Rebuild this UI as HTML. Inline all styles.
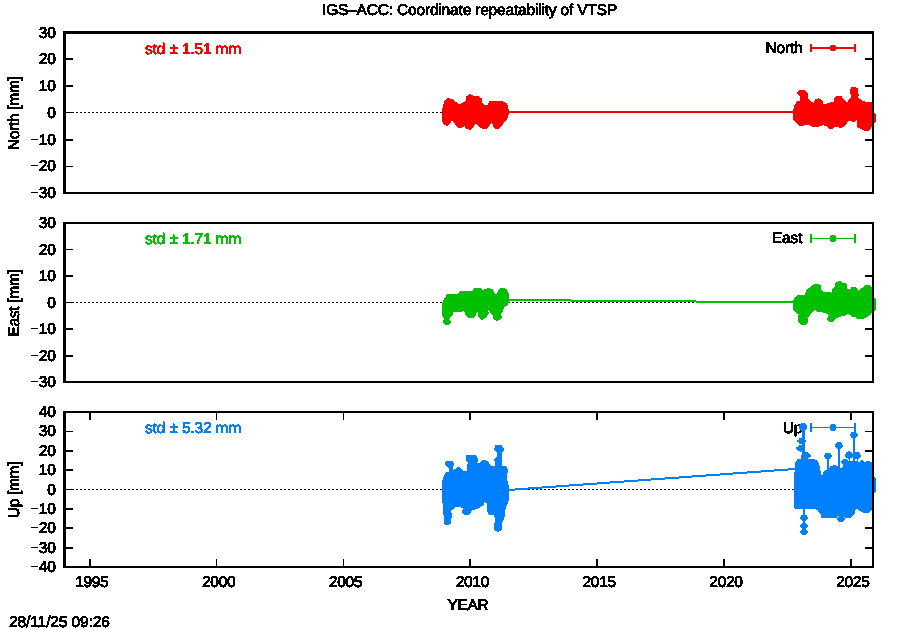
<!DOCTYPE html>
<html><head><meta charset="utf-8"><title>IGS-ACC: Coordinate repeatability of VTSP</title>
<style>html,body{margin:0;padding:0;background:#fff;}body{width:900px;height:630px;overflow:hidden;font-family:"Liberation Sans",sans-serif;}svg{display:block;}text{font-family:"Liberation Sans",sans-serif;}</style></head>
<body>
<svg width="900" height="630" viewBox="0 0 900 630" font-family="'Liberation Sans', sans-serif" font-size="15.5" letter-spacing="-0.3" text-rendering="geometricPrecision">
<rect width="900" height="630" fill="#fff"/>
<defs><filter id="al" x="0" y="0" width="100%" height="100%" filterUnits="userSpaceOnUse" color-interpolation-filters="sRGB"><feComponentTransfer><feFuncA type="discrete" tableValues="0 1"/></feComponentTransfer></filter></defs>
<g filter="url(#al)"><text transform="translate(469.5 15)" text-anchor="middle" fill="#000" stroke="#000" stroke-width="0.85" letter-spacing="-0.18">IGS–ACC: Coordinate repeatability of VTSP</text></g>
<g filter="url(#al)"><text transform="translate(802.5 53)" text-anchor="end" fill="#000" stroke="#000" stroke-width="0.85" letter-spacing="-0.2">North</text></g>
<g shape-rendering="crispEdges">
<line x1="64" y1="112.5" x2="872" y2="112.5" stroke="#000" stroke-width="1" stroke-dasharray="2 2"/>
</g>
<g filter="url(#al)"><text transform="translate(802.5 243)" text-anchor="end" fill="#000" stroke="#000" stroke-width="0.85" letter-spacing="-0.05">East</text></g>
<g shape-rendering="crispEdges">
<line x1="64" y1="302.5" x2="872" y2="302.5" stroke="#000" stroke-width="1" stroke-dasharray="2 2"/>
</g>
<g filter="url(#al)"><text transform="translate(802.5 433)" text-anchor="end" fill="#000" stroke="#000" stroke-width="0.85" letter-spacing="0">Up</text></g>
<g shape-rendering="crispEdges">
<line x1="64" y1="489.5" x2="872" y2="489.5" stroke="#000" stroke-width="1" stroke-dasharray="2 2"/>
</g>
<g shape-rendering="crispEdges">
<rect x="66" y="58" width="7" height="2" fill="#000"/>
<rect x="865" y="58" width="7" height="2" fill="#000"/>
<rect x="66" y="85" width="7" height="2" fill="#000"/>
<rect x="865" y="85" width="7" height="2" fill="#000"/>
<rect x="66" y="112" width="7" height="1" fill="#000"/>
<rect x="865" y="112" width="7" height="1" fill="#000"/>
<rect x="66" y="139" width="7" height="2" fill="#000"/>
<rect x="865" y="139" width="7" height="2" fill="#000"/>
<rect x="66" y="166" width="7" height="1" fill="#000"/>
<rect x="865" y="166" width="7" height="1" fill="#000"/>
</g>
<g shape-rendering="crispEdges">
<rect x="66" y="249" width="7" height="1" fill="#000"/>
<rect x="865" y="249" width="7" height="1" fill="#000"/>
<rect x="66" y="275" width="7" height="2" fill="#000"/>
<rect x="865" y="275" width="7" height="2" fill="#000"/>
<rect x="66" y="302" width="7" height="1" fill="#000"/>
<rect x="865" y="302" width="7" height="1" fill="#000"/>
<rect x="66" y="328" width="7" height="2" fill="#000"/>
<rect x="865" y="328" width="7" height="2" fill="#000"/>
<rect x="66" y="355" width="7" height="2" fill="#000"/>
<rect x="865" y="355" width="7" height="2" fill="#000"/>
</g>
<g shape-rendering="crispEdges">
<rect x="66" y="431" width="7" height="1" fill="#000"/>
<rect x="865" y="431" width="7" height="1" fill="#000"/>
<rect x="66" y="450" width="7" height="2" fill="#000"/>
<rect x="865" y="450" width="7" height="2" fill="#000"/>
<rect x="66" y="469" width="7" height="2" fill="#000"/>
<rect x="865" y="469" width="7" height="2" fill="#000"/>
<rect x="66" y="489" width="7" height="1" fill="#000"/>
<rect x="865" y="489" width="7" height="1" fill="#000"/>
<rect x="66" y="508" width="7" height="2" fill="#000"/>
<rect x="865" y="508" width="7" height="2" fill="#000"/>
<rect x="66" y="527" width="7" height="2" fill="#000"/>
<rect x="865" y="527" width="7" height="2" fill="#000"/>
<rect x="66" y="547" width="7" height="2" fill="#000"/>
<rect x="865" y="547" width="7" height="2" fill="#000"/>
<rect x="89" y="413" width="2" height="7" fill="#000"/>
<rect x="89" y="559" width="2" height="7" fill="#000"/>
<rect x="216" y="413" width="1" height="7" fill="#000"/>
<rect x="216" y="559" width="1" height="7" fill="#000"/>
<rect x="343" y="413" width="1" height="7" fill="#000"/>
<rect x="343" y="559" width="1" height="7" fill="#000"/>
<rect x="469" y="413" width="2" height="7" fill="#000"/>
<rect x="469" y="559" width="2" height="7" fill="#000"/>
<rect x="596" y="413" width="2" height="7" fill="#000"/>
<rect x="596" y="559" width="2" height="7" fill="#000"/>
<rect x="723" y="413" width="2" height="7" fill="#000"/>
<rect x="723" y="559" width="2" height="7" fill="#000"/>
<rect x="850" y="413" width="2" height="7" fill="#000"/>
<rect x="850" y="559" width="2" height="7" fill="#000"/>
</g>
<g shape-rendering="crispEdges">
<line x1="508" y1="112" x2="794" y2="112" stroke="#ff0000" stroke-width="2"/>
<line x1="509" y1="112.5" x2="794" y2="112.5" stroke="#8a0000" stroke-width="1" stroke-dasharray="1 3"/>
<line x1="508" y1="300" x2="794" y2="302.3" stroke="#00c000" stroke-width="2"/>
<line x1="508" y1="490" x2="795" y2="469" stroke="#0080ff" stroke-width="2"/>
</g>
<path d="M442.0,112.7 L444.7,101.3 L447.3,98.7 L452.0,99.3 L456.0,102.7 L459.3,105.0 L462.7,103.3 L466.0,101.3 L466.7,96.7 L470.0,94.7 L473.3,96.0 L477.3,96.0 L481.3,98.7 L482.0,103.3 L484.7,105.3 L488.0,105.0 L490.0,101.3 L494.7,101.7 L497.3,101.0 L502.7,102.0 L506.7,104.0 L508.0,108.7 L508.7,112.7 L506.7,119.3 L503.3,122.7 L500.0,127.3 L496.7,129.0 L493.3,126.0 L492.7,121.3 L489.3,124.0 L487.3,128.0 L483.3,129.0 L480.0,126.7 L476.0,122.7 L473.3,126.0 L470.7,129.3 L466.7,128.7 L464.7,125.3 L461.3,127.6 L458.0,127.3 L455.3,123.3 L452.0,120.0 L448.0,125.3 L444.7,124.7 L442.7,121.3Z" fill="#ff0000" stroke="#ff0000" stroke-width="1" stroke-linejoin="round" shape-rendering="crispEdges"/>
<path d="M793.3,112.7 L794.7,106.0 L797.3,102.0 L800.0,101.3 L800.0,96.0 L797.3,93.3 L799.3,90.7 L803.3,90.0 L806.7,92.7 L808.0,95.3 L807.3,98.7 L810.7,102.0 L814.0,103.3 L815.3,100.0 L818.7,98.7 L822.0,100.7 L823.3,105.3 L826.7,104.0 L830.7,102.7 L834.7,102.0 L834.0,98.7 L837.3,96.0 L841.3,96.7 L843.3,100.0 L846.7,103.3 L850.7,98.7 L852.0,96.0 L850.0,91.3 L851.3,88.0 L854.0,87.0 L857.3,88.7 L858.0,91.3 L856.7,93.3 L858.7,95.3 L857.3,97.3 L861.3,100.7 L865.3,102.0 L870.7,102.0 L872.3,104.7 L873.3,112.7 L875.3,114.0 L876.0,118.0 L875.3,122.0 L873.3,122.7 L871.3,126.0 L869.3,130.0 L866.0,130.7 L861.3,128.7 L858.0,126.7 L857.3,119.3 L854.0,121.3 L850.7,120.7 L848.7,120.0 L845.3,124.7 L841.3,127.6 L837.3,126.7 L834.0,126.0 L832.7,128.0 L830.0,128.7 L826.0,125.3 L822.7,124.7 L819.3,126.0 L814.0,126.7 L810.7,125.3 L808.0,124.0 L804.7,124.0 L802.7,125.7 L799.3,125.3 L796.7,122.7 L793.3,118.7Z" fill="#ff0000" stroke="#ff0000" stroke-width="1" stroke-linejoin="round" shape-rendering="crispEdges"/>
<path d="M442.0,305.3 L444.7,298.7 L447.3,295.0 L452.0,294.0 L458.7,294.0 L461.3,291.3 L466.7,291.0 L472.7,291.3 L474.7,288.3 L478.7,288.0 L482.7,290.4 L488.0,288.7 L492.0,289.3 L494.0,292.7 L496.0,295.3 L499.3,290.0 L502.0,288.0 L506.0,289.3 L508.0,292.7 L508.3,302.7 L506.7,305.3 L503.3,306.7 L502.7,311.3 L500.0,313.3 L501.3,317.3 L499.3,319.3 L496.7,320.7 L494.0,318.7 L493.3,314.7 L490.7,312.7 L488.7,308.7 L487.3,310.7 L488.7,313.3 L485.3,317.3 L482.0,319.3 L478.7,316.7 L478.0,310.7 L476.0,313.3 L474.7,316.7 L470.0,318.0 L466.0,315.3 L464.7,310.7 L460.0,311.3 L452.0,311.3 L452.7,314.0 L450.0,317.3 L448.7,319.3 L450.7,322.0 L448.0,324.7 L445.3,324.7 L443.3,322.0 L444.7,318.7 L442.0,314.7Z" fill="#00c000" stroke="#00c000" stroke-width="1" stroke-linejoin="round" shape-rendering="crispEdges"/>
<path d="M793.3,302.7 L794.7,298.0 L798.7,295.3 L805.3,295.0 L806.7,290.7 L812.0,286.0 L816.0,284.0 L820.0,285.3 L820.7,290.0 L823.3,292.7 L827.3,292.0 L832.0,293.3 L832.7,290.0 L835.3,287.3 L836.0,283.3 L839.3,281.0 L842.7,283.3 L846.0,284.0 L846.7,288.7 L850.0,291.3 L851.3,288.0 L854.7,287.0 L857.3,290.0 L858.7,292.0 L862.0,288.7 L865.3,286.0 L868.7,285.0 L872.0,288.7 L873.3,298.0 L875.3,299.3 L876.0,304.0 L875.3,310.0 L872.0,311.3 L870.7,314.0 L866.7,316.7 L862.7,318.7 L858.7,318.7 L855.3,316.7 L852.7,316.7 L848.7,313.3 L844.0,315.3 L838.7,316.7 L834.0,319.3 L832.0,322.0 L829.3,321.3 L827.3,318.7 L830.0,315.3 L826.7,313.3 L822.7,312.0 L818.0,311.3 L814.7,309.3 L811.3,312.7 L808.7,316.0 L806.7,317.3 L808.0,321.3 L805.3,324.7 L802.0,324.7 L798.7,321.3 L798.0,317.3 L800.0,314.0 L796.7,312.7 L794.0,310.0Z" fill="#00c000" stroke="#00c000" stroke-width="1" stroke-linejoin="round" shape-rendering="crispEdges"/>
<path d="M442.0,491.0 L442.4,481.0 L446.0,473.0 L449.0,472.0 L449.0,468.0 L445.0,464.0 L447.0,461.4 L452.0,461.4 L454.0,464.0 L452.0,468.0 L453.0,471.0 L459.0,467.0 L463.0,471.0 L467.0,472.0 L467.0,466.0 L469.0,463.0 L466.0,459.0 L467.0,455.4 L476.0,456.0 L478.0,460.0 L476.0,463.0 L480.0,463.0 L483.0,460.0 L487.0,461.4 L491.0,466.0 L495.0,466.0 L496.0,462.0 L494.0,460.0 L497.0,457.0 L497.0,452.0 L494.4,449.0 L496.0,445.6 L501.0,445.6 L504.0,449.0 L501.6,453.0 L502.0,466.0 L506.0,467.0 L507.6,470.0 L506.0,477.0 L508.0,485.0 L509.0,491.0 L508.0,501.0 L505.0,509.0 L504.0,517.0 L502.0,522.0 L501.0,530.0 L498.0,531.6 L495.0,530.0 L494.0,525.0 L496.0,521.0 L494.4,515.0 L489.0,514.0 L487.0,509.0 L487.0,503.0 L484.0,501.0 L483.0,505.0 L478.0,508.0 L472.0,510.0 L469.0,514.0 L465.0,515.0 L462.4,512.0 L464.0,508.0 L459.0,506.0 L455.0,507.0 L450.0,511.0 L452.0,516.0 L450.0,519.0 L450.4,523.0 L447.0,525.0 L444.0,523.0 L445.0,518.0 L443.6,513.0 L443.6,505.0 L442.0,499.0Z" fill="#0080ff" stroke="#0080ff" stroke-width="1" stroke-linejoin="round" shape-rendering="crispEdges"/>
<path d="M794.0,489.0 L794.0,479.0 L795.0,472.0 L796.0,462.0 L798.0,459.5 L801.0,459.5 L801.5,455.0 L804.0,455.0 L804.5,459.0 L808.0,459.0 L813.3,459.4 L817.0,461.0 L819.0,466.0 L820.5,473.0 L822.0,479.0 L823.5,473.0 L825.0,471.0 L829.0,470.5 L831.0,466.5 L835.0,465.5 L838.0,467.0 L841.0,469.5 L843.0,467.0 L845.0,463.0 L847.0,461.5 L850.0,461.0 L856.0,461.0 L859.0,462.5 L862.0,460.5 L865.0,462.5 L868.0,461.0 L871.0,462.5 L873.0,466.0 L874.0,477.0 L875.5,479.0 L876.0,485.0 L875.5,491.7 L874.0,493.0 L873.0,505.0 L871.7,508.0 L869.0,512.0 L865.0,512.5 L862.0,511.7 L858.0,509.0 L855.5,508.0 L854.0,514.0 L849.4,517.8 L845.0,517.0 L842.0,515.0 L838.0,516.0 L835.5,517.8 L830.0,518.0 L826.0,517.8 L822.0,517.8 L821.0,514.0 L818.0,510.0 L815.0,508.3 L805.0,508.3 L795.0,508.3 L794.0,506.0Z" fill="#0080ff" stroke="#0080ff" stroke-width="1" stroke-linejoin="round" shape-rendering="crispEdges"/>
<rect x="801.5" y="424" width="3" height="46" fill="#0080ff" shape-rendering="crispEdges"/>
<rect x="798.7" y="426" width="8.6" height="2" fill="#0080ff" shape-rendering="crispEdges"/>
<circle cx="803" cy="427" r="4.2" fill="#0080ff" shape-rendering="crispEdges"/>
<rect x="797.4000000000001" y="440" width="8.6" height="2" fill="#0080ff" shape-rendering="crispEdges"/>
<circle cx="801.7" cy="441" r="3.3" fill="#0080ff" shape-rendering="crispEdges"/>
<rect x="796.2" y="447.3" width="8.6" height="2" fill="#0080ff" shape-rendering="crispEdges"/>
<circle cx="800.5" cy="448.3" r="3.3" fill="#0080ff" shape-rendering="crispEdges"/>
<rect x="802.4000000000001" y="454.5" width="8.6" height="2" fill="#0080ff" shape-rendering="crispEdges"/>
<circle cx="806.7" cy="455.5" r="3.3" fill="#0080ff" shape-rendering="crispEdges"/>
<rect x="826.8" y="456" width="2" height="16" fill="#0080ff" shape-rendering="crispEdges"/>
<rect x="823.5" y="455" width="8.6" height="2" fill="#0080ff" shape-rendering="crispEdges"/>
<circle cx="827.8" cy="456" r="3.4" fill="#0080ff" shape-rendering="crispEdges"/>
<rect x="837.9" y="446" width="2" height="24" fill="#0080ff" shape-rendering="crispEdges"/>
<rect x="834.6" y="444.5" width="8.6" height="2" fill="#0080ff" shape-rendering="crispEdges"/>
<circle cx="838.9" cy="445.5" r="3.6" fill="#0080ff" shape-rendering="crispEdges"/>
<rect x="852.9" y="435" width="2" height="30" fill="#0080ff" shape-rendering="crispEdges"/>
<rect x="849.6" y="434" width="8.6" height="2" fill="#0080ff" shape-rendering="crispEdges"/>
<circle cx="853.9" cy="435" r="3.4" fill="#0080ff" shape-rendering="crispEdges"/>
<rect x="844.6" y="454" width="8.6" height="2" fill="#0080ff" shape-rendering="crispEdges"/>
<circle cx="848.9" cy="455" r="3.6" fill="#0080ff" shape-rendering="crispEdges"/>
<rect x="852.4000000000001" y="454.5" width="8.6" height="2" fill="#0080ff" shape-rendering="crispEdges"/>
<circle cx="856.7" cy="455.5" r="3.6" fill="#0080ff" shape-rendering="crispEdges"/>
<rect x="840.7" y="461" width="8.6" height="2" fill="#0080ff" shape-rendering="crispEdges"/>
<circle cx="845" cy="462" r="3.2" fill="#0080ff" shape-rendering="crispEdges"/>
<rect x="848.5" y="455" width="1" height="10" fill="#0080ff" shape-rendering="crispEdges"/>
<rect x="856.5" y="455" width="1" height="10" fill="#0080ff" shape-rendering="crispEdges"/>
<rect x="803.0" y="505" width="2" height="28" fill="#0080ff" shape-rendering="crispEdges"/>
<rect x="799.7" y="516.8" width="8.6" height="2" fill="#0080ff" shape-rendering="crispEdges"/>
<circle cx="804" cy="517.8" r="3.3" fill="#0080ff" shape-rendering="crispEdges"/>
<rect x="799.7" y="525" width="8.6" height="2" fill="#0080ff" shape-rendering="crispEdges"/>
<circle cx="804" cy="526" r="3.3" fill="#0080ff" shape-rendering="crispEdges"/>
<rect x="799.7" y="531" width="8.6" height="2" fill="#0080ff" shape-rendering="crispEdges"/>
<circle cx="804" cy="532" r="3.3" fill="#0080ff" shape-rendering="crispEdges"/>
<rect x="836.7" y="518" width="8.6" height="2" fill="#0080ff" shape-rendering="crispEdges"/>
<circle cx="841" cy="519" r="3.2" fill="#0080ff" shape-rendering="crispEdges"/>
<g shape-rendering="crispEdges">
<rect x="63" y="31" width="811" height="3" fill="#000"/>
<rect x="63" y="192" width="811" height="2" fill="#000"/>
<rect x="63" y="31" width="3" height="163" fill="#000"/>
<rect x="872" y="31" width="2" height="163" fill="#000"/>
</g>
<g filter="url(#al)"><text transform="translate(55.5 38)" text-anchor="end" fill="#000" stroke="#000" stroke-width="0.85">30</text></g>
<g filter="url(#al)"><text transform="translate(55.5 64)" text-anchor="end" fill="#000" stroke="#000" stroke-width="0.85">20</text></g>
<g filter="url(#al)"><text transform="translate(55.5 91)" text-anchor="end" fill="#000" stroke="#000" stroke-width="0.85">10</text></g>
<g filter="url(#al)"><text transform="translate(55.5 118)" text-anchor="end" fill="#000" stroke="#000" stroke-width="0.85">0</text></g>
<g filter="url(#al)"><text transform="translate(55.5 145)" text-anchor="end" fill="#000" stroke="#000" stroke-width="0.85"><tspan stroke="none">−</tspan>10</text></g>
<g filter="url(#al)"><text transform="translate(55.5 171)" text-anchor="end" fill="#000" stroke="#000" stroke-width="0.85"><tspan stroke="none">−</tspan>20</text></g>
<g filter="url(#al)"><text transform="translate(55.5 198)" text-anchor="end" fill="#000" stroke="#000" stroke-width="0.85"><tspan stroke="none">−</tspan>30</text></g>
<g filter="url(#al)"><text transform="translate(19 113.25) rotate(-90)" text-anchor="middle" fill="#000" stroke="#000" stroke-width="0.85">North [mm]</text></g>
<g filter="url(#al)"><text transform="translate(145 54)" text-anchor="start" fill="#ff0000" stroke="#ff0000" stroke-width="0.7" letter-spacing="-0.15">std ± 1.51 mm</text></g>
<g shape-rendering="crispEdges">
<rect x="810" y="47" width="46" height="2" fill="#ff0000"/>
<rect x="810" y="44" width="2" height="8" fill="#ff0000"/>
<rect x="854" y="44" width="2" height="8" fill="#ff0000"/>
</g>
<circle cx="833" cy="48.0" r="3.3" fill="#ff0000" shape-rendering="crispEdges"/>
<g shape-rendering="crispEdges">
<rect x="63" y="222" width="811" height="2" fill="#000"/>
<rect x="63" y="381" width="811" height="2" fill="#000"/>
<rect x="63" y="222" width="3" height="161" fill="#000"/>
<rect x="872" y="222" width="2" height="161" fill="#000"/>
</g>
<g filter="url(#al)"><text transform="translate(55.5 228)" text-anchor="end" fill="#000" stroke="#000" stroke-width="0.85">30</text></g>
<g filter="url(#al)"><text transform="translate(55.5 255)" text-anchor="end" fill="#000" stroke="#000" stroke-width="0.85">20</text></g>
<g filter="url(#al)"><text transform="translate(55.5 281)" text-anchor="end" fill="#000" stroke="#000" stroke-width="0.85">10</text></g>
<g filter="url(#al)"><text transform="translate(55.5 308)" text-anchor="end" fill="#000" stroke="#000" stroke-width="0.85">0</text></g>
<g filter="url(#al)"><text transform="translate(55.5 334)" text-anchor="end" fill="#000" stroke="#000" stroke-width="0.85"><tspan stroke="none">−</tspan>10</text></g>
<g filter="url(#al)"><text transform="translate(55.5 361)" text-anchor="end" fill="#000" stroke="#000" stroke-width="0.85"><tspan stroke="none">−</tspan>20</text></g>
<g filter="url(#al)"><text transform="translate(55.5 387)" text-anchor="end" fill="#000" stroke="#000" stroke-width="0.85"><tspan stroke="none">−</tspan>30</text></g>
<g filter="url(#al)"><text transform="translate(19 303.0) rotate(-90)" text-anchor="middle" fill="#000" stroke="#000" stroke-width="0.85">East [mm]</text></g>
<g filter="url(#al)"><text transform="translate(145 244)" text-anchor="start" fill="#00c000" stroke="#00c000" stroke-width="0.7" letter-spacing="-0.15">std ± 1.71 mm</text></g>
<g shape-rendering="crispEdges">
<rect x="810" y="238" width="46" height="1" fill="#00c000"/>
<rect x="810" y="234" width="2" height="9" fill="#00c000"/>
<rect x="854" y="234" width="2" height="9" fill="#00c000"/>
</g>
<circle cx="833" cy="238.5" r="3.3" fill="#00c000" shape-rendering="crispEdges"/>
<g shape-rendering="crispEdges">
<rect x="63" y="411" width="811" height="2" fill="#000"/>
<rect x="63" y="566" width="811" height="2" fill="#000"/>
<rect x="63" y="411" width="3" height="157" fill="#000"/>
<rect x="872" y="411" width="2" height="157" fill="#000"/>
</g>
<g filter="url(#al)"><text transform="translate(55.5 417)" text-anchor="end" fill="#000" stroke="#000" stroke-width="0.85">40</text></g>
<g filter="url(#al)"><text transform="translate(55.5 436)" text-anchor="end" fill="#000" stroke="#000" stroke-width="0.85">30</text></g>
<g filter="url(#al)"><text transform="translate(55.5 456)" text-anchor="end" fill="#000" stroke="#000" stroke-width="0.85">20</text></g>
<g filter="url(#al)"><text transform="translate(55.5 475)" text-anchor="end" fill="#000" stroke="#000" stroke-width="0.85">10</text></g>
<g filter="url(#al)"><text transform="translate(55.5 495)" text-anchor="end" fill="#000" stroke="#000" stroke-width="0.85">0</text></g>
<g filter="url(#al)"><text transform="translate(55.5 514)" text-anchor="end" fill="#000" stroke="#000" stroke-width="0.85"><tspan stroke="none">−</tspan>10</text></g>
<g filter="url(#al)"><text transform="translate(55.5 533)" text-anchor="end" fill="#000" stroke="#000" stroke-width="0.85"><tspan stroke="none">−</tspan>20</text></g>
<g filter="url(#al)"><text transform="translate(55.5 553)" text-anchor="end" fill="#000" stroke="#000" stroke-width="0.85"><tspan stroke="none">−</tspan>30</text></g>
<g filter="url(#al)"><text transform="translate(55.5 572)" text-anchor="end" fill="#000" stroke="#000" stroke-width="0.85"><tspan stroke="none">−</tspan>40</text></g>
<g filter="url(#al)"><text transform="translate(19 490.0) rotate(-90)" text-anchor="middle" fill="#000" stroke="#000" stroke-width="0.85">Up [mm]</text></g>
<g filter="url(#al)"><text transform="translate(145 433)" text-anchor="start" fill="#0080ff" stroke="#0080ff" stroke-width="0.7" letter-spacing="-0.15">std ± 5.32 mm</text></g>
<g shape-rendering="crispEdges">
<rect x="810" y="427" width="46" height="1" fill="#0080ff"/>
<rect x="810" y="423" width="2" height="9" fill="#0080ff"/>
<rect x="854" y="423" width="2" height="9" fill="#0080ff"/>
</g>
<circle cx="833" cy="427.5" r="3.3" fill="#0080ff" shape-rendering="crispEdges"/>
<g filter="url(#al)"><text transform="translate(91.8 587)" text-anchor="middle" fill="#000" stroke="#000" stroke-width="0.85">1995</text></g>
<g filter="url(#al)"><text transform="translate(218.635 587)" text-anchor="middle" fill="#000" stroke="#000" stroke-width="0.85">2000</text></g>
<g filter="url(#al)"><text transform="translate(345.47 587)" text-anchor="middle" fill="#000" stroke="#000" stroke-width="0.85">2005</text></g>
<g filter="url(#al)"><text transform="translate(472.305 587)" text-anchor="middle" fill="#000" stroke="#000" stroke-width="0.85">2010</text></g>
<g filter="url(#al)"><text transform="translate(599.14 587)" text-anchor="middle" fill="#000" stroke="#000" stroke-width="0.85">2015</text></g>
<g filter="url(#al)"><text transform="translate(725.975 587)" text-anchor="middle" fill="#000" stroke="#000" stroke-width="0.85">2020</text></g>
<g filter="url(#al)"><text transform="translate(852.8100000000001 587)" text-anchor="middle" fill="#000" stroke="#000" stroke-width="0.85">2025</text></g>
<g filter="url(#al)"><text transform="translate(468 610)" text-anchor="middle" fill="#000" stroke="#000" stroke-width="0.85">YEAR</text></g>
<g filter="url(#al)"><text transform="translate(9 627)" text-anchor="start" fill="#000" stroke="#000" stroke-width="0.85" letter-spacing="-0.1">28/11/25 09:26</text></g>
</svg>
</body></html>
